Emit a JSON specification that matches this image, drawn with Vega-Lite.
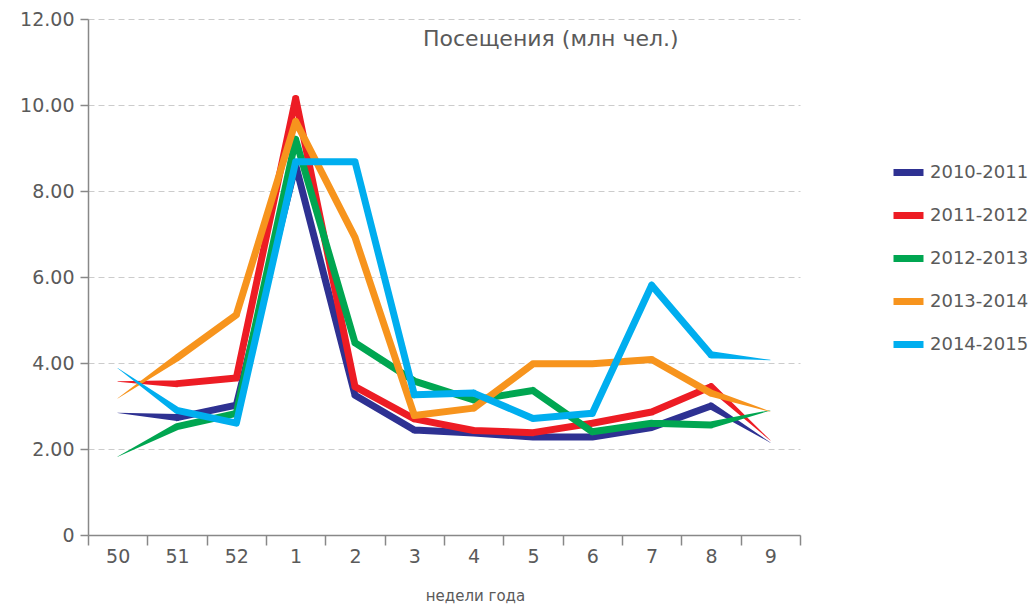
{
  "$schema": "https://vega.github.io/schema/vega-lite/v6.json",
  "width": 712,
  "height": 516,
  "autosize": "none",
  "padding": {"left": 88, "top": 19, "right": 235, "bottom": 70},
  "background": "white",
  "config": {"font": "DejaVu Sans", "view": {"stroke": null}},
  "title": {"text": "Посещения (млн чел.)", "orient": "top", "anchor": "start", "frame": "group", "dx": 335, "dy": 41, "offset": 0, "baseline": "top", "fontSize": 22, "fontWeight": "normal", "color": "#5a5a5a"},
  "data": {"values": [
    {"season": "2010-2011", "week": "50", "value": 2.84},
    {"season": "2010-2011", "week": "51", "value": 2.73},
    {"season": "2010-2011", "week": "52", "value": 3.02},
    {"season": "2010-2011", "week": "1", "value": 8.6},
    {"season": "2010-2011", "week": "2", "value": 3.25},
    {"season": "2010-2011", "week": "3", "value": 2.44},
    {"season": "2010-2011", "week": "4", "value": 2.37},
    {"season": "2010-2011", "week": "5", "value": 2.28},
    {"season": "2010-2011", "week": "6", "value": 2.28},
    {"season": "2010-2011", "week": "7", "value": 2.5},
    {"season": "2010-2011", "week": "8", "value": 3.0},
    {"season": "2010-2011", "week": "9", "value": 2.15},
    {"season": "2011-2012", "week": "50", "value": 3.57},
    {"season": "2011-2012", "week": "51", "value": 3.52},
    {"season": "2011-2012", "week": "52", "value": 3.65},
    {"season": "2011-2012", "week": "1", "value": 10.15},
    {"season": "2011-2012", "week": "2", "value": 3.45},
    {"season": "2011-2012", "week": "3", "value": 2.7},
    {"season": "2011-2012", "week": "4", "value": 2.43},
    {"season": "2011-2012", "week": "5", "value": 2.38},
    {"season": "2011-2012", "week": "6", "value": 2.6},
    {"season": "2011-2012", "week": "7", "value": 2.86},
    {"season": "2011-2012", "week": "8", "value": 3.45},
    {"season": "2011-2012", "week": "9", "value": 2.2},
    {"season": "2012-2013", "week": "50", "value": 1.82},
    {"season": "2012-2013", "week": "51", "value": 2.52},
    {"season": "2012-2013", "week": "52", "value": 2.83},
    {"season": "2012-2013", "week": "1", "value": 9.2},
    {"season": "2012-2013", "week": "2", "value": 4.47},
    {"season": "2012-2013", "week": "3", "value": 3.58},
    {"season": "2012-2013", "week": "4", "value": 3.14},
    {"season": "2012-2013", "week": "5", "value": 3.36},
    {"season": "2012-2013", "week": "6", "value": 2.4},
    {"season": "2012-2013", "week": "7", "value": 2.6},
    {"season": "2012-2013", "week": "8", "value": 2.56},
    {"season": "2012-2013", "week": "9", "value": 2.9},
    {"season": "2013-2014", "week": "50", "value": 3.18},
    {"season": "2013-2014", "week": "51", "value": 4.12},
    {"season": "2013-2014", "week": "52", "value": 5.12},
    {"season": "2013-2014", "week": "1", "value": 9.62},
    {"season": "2013-2014", "week": "2", "value": 6.92},
    {"season": "2013-2014", "week": "3", "value": 2.78},
    {"season": "2013-2014", "week": "4", "value": 2.95},
    {"season": "2013-2014", "week": "5", "value": 3.98},
    {"season": "2013-2014", "week": "6", "value": 3.98},
    {"season": "2013-2014", "week": "7", "value": 4.08},
    {"season": "2013-2014", "week": "8", "value": 3.3},
    {"season": "2013-2014", "week": "9", "value": 2.87},
    {"season": "2014-2015", "week": "50", "value": 3.88},
    {"season": "2014-2015", "week": "51", "value": 2.9},
    {"season": "2014-2015", "week": "52", "value": 2.6},
    {"season": "2014-2015", "week": "1", "value": 8.68},
    {"season": "2014-2015", "week": "2", "value": 8.68},
    {"season": "2014-2015", "week": "3", "value": 3.26},
    {"season": "2014-2015", "week": "4", "value": 3.3},
    {"season": "2014-2015", "week": "5", "value": 2.71},
    {"season": "2014-2015", "week": "6", "value": 2.83},
    {"season": "2014-2015", "week": "7", "value": 5.81},
    {"season": "2014-2015", "week": "8", "value": 4.19},
    {"season": "2014-2015", "week": "9", "value": 4.07}
  ]},
  "mark": {"type": "trail"},
  "encoding": {
    "x": {
      "field": "week", "type": "ordinal",
      "sort": ["50", "51", "52", "1", "2", "3", "4", "5", "6", "7", "8", "9"],
      "bandPosition": 0.5,
      "scale": {"type": "band", "paddingInner": 0, "paddingOuter": 0},
      "axis": {
        "title": "недели года", "titleFontSize": 15, "titleFontWeight": "normal", "titleColor": "#5a5a5a",
        "titleX": 387, "titleY": 65, "titleBaseline": "alphabetic",
        "tickBand": "extent", "tickSize": 10, "tickWidth": 1.5, "tickColor": "#888888",
        "domainColor": "#888888", "domainWidth": 1.5,
        "labelAngle": 0, "labelFontSize": 19, "labelColor": "#5a5a5a", "labelPadding": 2, "grid": false
      }
    },
    "y": {
      "field": "value", "type": "quantitative",
      "scale": {"domain": [0, 12]},
      "axis": {
        "title": null, "values": [0, 2, 4, 6, 8, 10, 12],
        "labelExpr": "datum.value == 0 ? '0' : format(datum.value, '.2f')",
        "grid": true, "gridDash": [6, 4], "gridColor": "#cccccc", "gridWidth": 1,
        "tickSize": 8, "tickWidth": 1.5, "tickColor": "#888888",
        "domainColor": "#888888", "domainWidth": 1.5,
        "labelFontSize": 19, "labelColor": "#5a5a5a", "labelPadding": 6
      }
    },
    "color": {
      "field": "season", "type": "nominal",
      "scale": {
        "domain": ["2010-2011", "2011-2012", "2012-2013", "2013-2014", "2014-2015"],
        "range": ["#2e3192", "#ed1c24", "#00a651", "#f7941d", "#00aeef"]
      },
      "legend": {
        "title": null, "orient": "none", "legendX": 802, "legendY": 135,
        "symbolType": "stroke", "symbolSize": 900, "symbolStrokeWidth": 7,
        "labelFontSize": 18, "labelColor": "#5a5a5a", "labelOffset": 3, "rowPadding": 10
      }
    },
    "size": {
      "condition": {"test": "datum.week == '50' || datum.week == '9'", "value": 0.3},
      "value": 7
    },
    "order": {"value": null}
  }
}
